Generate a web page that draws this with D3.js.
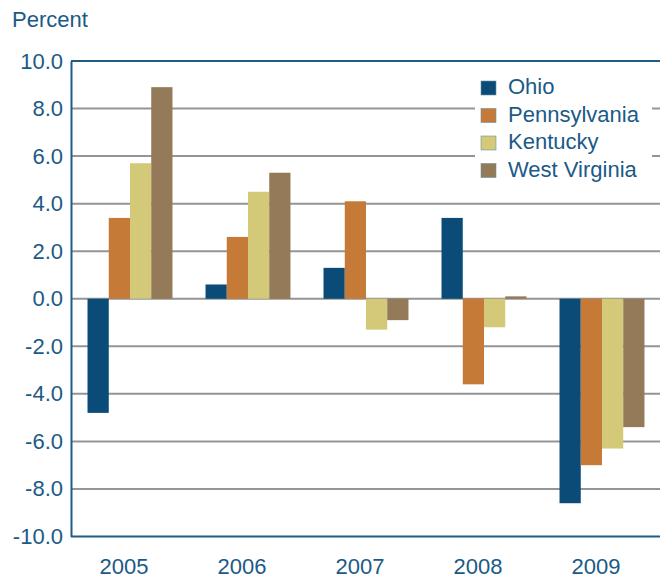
<!DOCTYPE html>
<html>
<head>
<meta charset="utf-8">
<script src="https://cdn.jsdelivr.net/npm/d3@7"></script>
<style>
  html, body { margin: 0; padding: 0; background: #fff; }
  svg { display: block; font-family: "Liberation Sans", Arial, sans-serif; }
</style>
</head>
<body>
<svg id="chart" width="660" height="579"></svg>
<script>
// Annual percent change by state, 2005–2009
const years = ["2005", "2006", "2007", "2008", "2009"];
const states = ["Ohio", "Pennsylvania", "Kentucky", "West Virginia"];
const ohio         = [-4.8, 0.6, 1.3, 3.4, -8.6];
const pennsylvania = [3.4, 2.6, 4.1, -3.6, -7.0];
const kentucky     = [5.7, 4.5, -1.3, -1.2, -6.3];
const westVirginia = [8.9, 5.3, -0.9, 0.1, -5.4];
const yTicks = [10, 8, 6, 4, 2, 0, -2, -4, -6, -8, -10];

const seriesValues = [ohio, pennsylvania, kentucky, westVirginia];
const colors = ["#0a4b78", "#c67a38", "#d4c978", "#957a5a"];
const textColor = "#1b5a87";
const axisColor = "#1f5b85";
const fontSize = 22;

const svg = d3.select("#chart");
const plotLeft = 71, plotRight = 661, plotTop = 61, plotBottom = 536.5;

const x = d3.scaleBand().domain(years).range([plotLeft, plotRight])
  .paddingInner(0.28).paddingOuter(0.14);
const xs = d3.scaleBand().domain(states).range([0, x.bandwidth()]);
const y = d3.scaleLinear().domain([-10, 10]).range([plotBottom, plotTop]);
const color = d3.scaleOrdinal().domain(states).range(colors);

const fmt = d3.formatLocale({decimal: ".", thousands: ",", grouping: [3], currency: ["", ""], minus: "-"}).format(".1f");

// Horizontal gridlines
svg.append("g").selectAll("line")
  .data(yTicks.filter(v => v !== 10 && v !== -10))
  .join("line")
  .attr("x1", plotLeft).attr("x2", plotRight)
  .attr("y1", d => y(d)).attr("y2", d => y(d))
  .attr("stroke", "#959595").attr("stroke-width", 2);

// Legend background hides the gridlines behind it
svg.append("rect")
  .attr("x", 475).attr("y", 69).attr("width", 177).attr("height", 120)
  .attr("fill", "#fff");

// Bars
const rows = years.map((yr, i) => ({year: yr, vals: states.map((s, j) => ({state: s, value: seriesValues[j][i]}))}));
svg.append("g").selectAll("g")
  .data(rows)
  .join("g")
  .attr("transform", d => `translate(${x(d.year)},0)`)
  .selectAll("rect")
  .data(d => d.vals)
  .join("rect")
  .attr("x", d => xs(d.state))
  .attr("width", xs.bandwidth())
  .attr("y", d => y(Math.max(0, d.value)))
  .attr("height", d => Math.abs(y(d.value) - y(0)))
  .attr("fill", d => color(d.state));

// Plot frame: top and bottom lines
svg.append("line").attr("x1", plotLeft).attr("x2", plotRight).attr("y1", plotTop).attr("y2", plotTop)
  .attr("stroke", axisColor).attr("stroke-width", 2);
svg.append("line").attr("x1", plotLeft).attr("x2", plotRight).attr("y1", plotBottom).attr("y2", plotBottom)
  .attr("stroke", axisColor).attr("stroke-width", 2);

// Y axis
const yAxis = svg.append("g")
  .attr("transform", `translate(${plotLeft},0)`)
  .call(d3.axisLeft(y).tickValues(yTicks).tickFormat(fmt).tickSize(0).tickPadding(8));
yAxis.select(".domain").attr("stroke", axisColor).attr("stroke-width", 2);
yAxis.selectAll("text").attr("fill", textColor).attr("font-size", fontSize)
  .attr("font-family", "Liberation Sans, Arial, sans-serif");

// X axis labels
const xAxis = svg.append("g")
  .attr("transform", `translate(-6,${plotBottom})`)
  .call(d3.axisBottom(x).tickSize(0).tickPadding(22));
xAxis.select(".domain").remove();
xAxis.selectAll("text").attr("fill", textColor).attr("font-size", fontSize)
  .attr("font-family", "Liberation Sans, Arial, sans-serif");

// Axis title
svg.append("text").attr("x", 12).attr("y", 27)
  .attr("fill", textColor).attr("font-size", fontSize).text("Percent");

// Legend
const legend = svg.append("g").selectAll("g")
  .data(states)
  .join("g")
  .attr("transform", (d, i) => `translate(481,${81 + i * 27.5})`);
legend.append("rect").attr("width", 15).attr("height", 14)
  .attr("fill", d => color(d)).attr("stroke", "#6d8fa6").attr("stroke-width", 0.6);
legend.append("text").attr("x", 27).attr("y", 13)
  .attr("fill", textColor).attr("font-size", fontSize).text(d => d);
</script>
</body>
</html>
